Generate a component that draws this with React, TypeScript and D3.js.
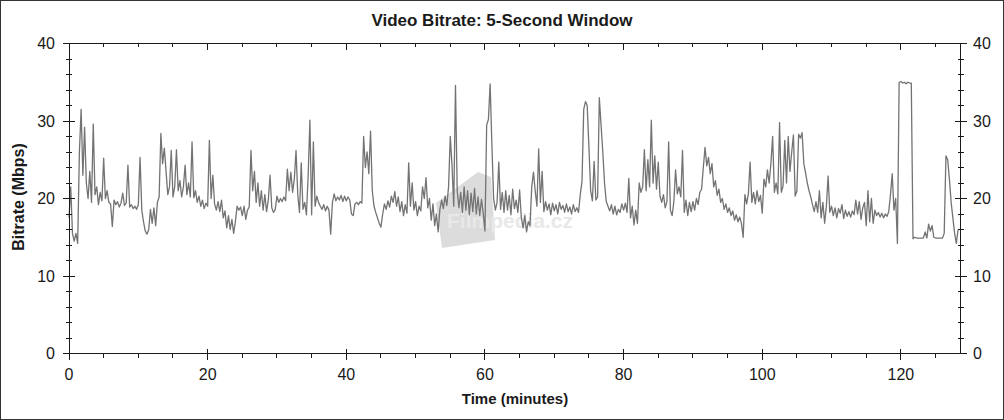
import React from 'react';
import * as d3 from 'd3';

const W = 1004;
const H = 420;

const chartTitle = 'Video Bitrate: 5-Second Window';
const xAxisTitle = 'Time (minutes)';
const yAxisTitle = 'Bitrate (Mbps)';
const watermarkText = 'Filmpedia.cz';

const xTickLabels = [0, 20, 40, 60, 80, 100, 120];
const yTickLabels = [0, 10, 20, 30, 40];

// one sample every 0.25 minute starting at minute 0
const sampleStepMinutes = 0.25;
const bitrateMbps = [
  // 0 - 5
  17.5, 21.5, 15.5, 14.5, 15.5, 14.2, 26, 31.5, 23, 29.2, 22, 20, 23.5, 19.5, 29.6, 20.5, 21.5, 19.2, 20.8, 19.7,
  // 5 - 10
  25.2, 20, 21, 19.5, 19.3, 16.4, 19.8, 19.2, 19.6, 18.9, 19.4, 20.7, 19.1, 19.4, 24.3, 18.9, 19.2, 18.7, 19, 18.6,
  // 10 - 15
  19.2, 25.3, 18.5, 17, 15.8, 15.4, 16, 18.6, 16.8, 18.8, 16.5, 19.5, 20.2, 28.4, 24.5, 26.5, 23.5, 20.5, 21.5, 26.2,
  // 15 - 20
  20.2, 21.5, 26.3, 21, 22.3, 20.2, 21.5, 24.3, 20.5, 22, 20.2, 27.3, 20.1, 21, 19.5, 20.3, 19, 19.8, 18.7, 19.4,
  // 20 - 25
  19, 27.5, 20, 23, 19.3, 18.5, 19.6, 18.3, 19.8, 17.5, 18.4, 16.2, 17.8, 16, 17.3, 15.5, 17, 19, 18.5, 18.9,
  // 25 - 30
  17.8, 19, 17.3, 18.5, 18.9, 26.2, 21, 23.5, 19.5, 22, 19, 21, 18.5, 20.5, 18.3, 19.8, 23, 18.8, 18.2, 18.6,
  // 30 - 35
  20.3, 19.5, 20, 19.6, 20.2, 19.7, 23.8, 21, 23.4, 20.8, 22.5, 26.2, 20.5, 18.2, 24.6, 18.6, 19.5, 17.9, 23, 30.1,
  // 35 - 40
  17.9, 27.3, 19, 20.3, 19.5, 19, 18.6, 19.2, 18.4, 19, 18.5, 15.4, 19.5, 20.6, 19.7, 20.2, 19.8, 20.4, 19.6, 20.3,
  // 40 - 45
  19.7, 20.2, 19.8, 18, 17.8, 19.3, 19.5, 19.2, 19.6, 19.4, 28, 24, 26, 23.2, 28.7, 21, 19, 18.2, 17.5, 16.8,
  // 45 - 50
  16.3, 18, 19.3, 18.6, 19.7, 18.9, 20.3, 19.5, 20.9, 19, 20.2, 18.3, 19.6, 17.8, 19.2, 18.1, 24.6, 19, 22, 18.5,
  // 50 - 55
  19.6, 17.8, 19, 18.4, 21.5, 20, 22.7, 18.8, 20, 17.2, 19.3, 16.5, 18, 15.7, 18.6, 19.8, 18.7, 20.3, 19.1, 21.5,
  // 55 - 60
  28, 24.3, 19, 34.6, 21, 18.8, 20.8, 18.2, 21.5, 18.5, 21, 17.9, 20.7, 18.3, 21.3, 18, 20.2, 17.8, 19.9, 18.1,
  // 60 - 65
  15.8, 29.5, 30.2, 34.8, 27, 20, 18.5, 19.5, 24.7, 18.6, 20.8, 18.2, 21, 18.5, 20.4, 17.9, 21.2, 18.7, 19.8, 18.2,
  // 65 - 70
  21.1, 17.5, 16.2, 17.8, 15.7, 17, 16.5, 21.5, 23.4, 21, 19, 26.4, 19.5, 23.5, 18.3, 19.6, 18.5, 19.3, 17.9, 19.4,
  // 70 - 75
  18.4, 19.2, 18, 19.5, 18.6, 19.1, 18.2, 19.3, 18.3, 18.9, 18, 19.2, 18.3, 18.8, 18.2, 20.5, 22.2, 31.5, 32.5, 32,
  // 75 - 80
  26.6, 21, 19.7, 24.8, 19.8, 20.2, 33, 29.5, 26, 22, 19.6, 19, 18.4, 19.2, 18, 19, 17.9, 18.6, 18.2, 19.3,
  // 80 - 85
  18.5, 19.4, 18.2, 22.6, 17.5, 19, 16.6, 18.5, 16.8, 22, 20.8, 21.5, 26.3, 21, 25, 21.5, 30.1, 22, 25.5, 21.2,
  // 85 - 90
  24.7, 20.3, 19.5, 20.5, 18.8, 19.6, 27.3, 18.5, 17.8, 19.6, 23.7, 20.6, 21.5, 20.2, 26.2, 18.2, 19.8, 17.8, 19.5, 18.3,
  // 90 - 95
  19.6, 18.5, 20, 19.2, 20.8, 21.2, 24, 26.6, 24.2, 25.3, 23.2, 24.5, 21.5, 22.3, 20.4, 21.2, 19.5, 20, 18.6, 19.3,
  // 95 - 100
  18.2, 18.8, 17.8, 18.4, 17.2, 17.9, 17, 17.6, 16.8, 15, 20.5, 19.3, 20.6, 24.7, 19.5, 20.8, 19.3, 21, 19.6, 20.4,
  // 100 - 105
  18.1, 22.5, 21.5, 23.7, 22, 24.5, 28, 20.8, 22, 20.6, 29.8, 20.8, 21.6, 27.5, 22, 28, 23.5, 26, 28.2, 20.3,
  // 105 - 110
  21, 28.3, 27.8, 28.5, 24.5, 23.3, 22, 21, 20.2, 19.2, 18.3, 19.6, 18.2, 21, 17.5, 19.5, 16.8, 19, 22.9, 18.2,
  // 110 - 115
  19, 17.8, 18.8, 17.5, 18.7, 18.1, 19.2, 17.4, 18.5, 17.7, 18.3, 17.6, 18.4, 17.9, 19.8, 18, 19.6, 17.3, 18.8, 19.5,
  // 115 - 120
  16.5, 21, 17, 20, 16.8, 18.5, 17.8, 18.2, 17.6, 18.1, 17.5, 18, 17.7, 18.3, 20.5, 23.2, 18.5, 20, 14.2, 35,
  // 120 - 125
  35.1, 34.9, 35, 34.8, 35, 34.9, 34.9, 14.8, 15, 14.9, 14.9, 14.9, 14.9, 14.9, 15.7, 14.9, 16.7, 15.8, 16.5, 15,
  // 125 - 128.25
  14.9, 14.9, 14.9, 14.9, 14.9, 15.5, 25.5, 25, 22.5, 19.5, 17.5, 15.5, 14.2, 16,
];

const xDomainMax = 128.6;

export default function App() {
  const x = d3.scaleLinear().domain([0, xDomainMax]).range([69, 960.5]);
  const y = d3.scaleLinear().domain([0, 40]).range([353.5, 43.5]);

  const points: [number, number][] = bitrateMbps.map((v, i) => [i * sampleStepMinutes, v]);
  const line = d3
    .line<[number, number]>()
    .x((d) => x(d[0]))
    .y((d) => y(d[1]));

  const xMinor = d3.range(0, xDomainMax, 5);
  const yMinor = d3.range(0, 40.01, 2);
  const left = x(0);
  const right = x(xDomainMax);
  const top = y(40);
  const bottom = y(0);
  const axisColor = '#1a1a1a';
  const textColor = '#1a1a1a';
  const font = "'Liberation Sans', Arial, sans-serif";

  return (
    <svg
      width={W}
      height={H}
      style={{ position: 'absolute', left: 0, top: 0, background: '#fff' }}
      fontFamily={font}
    >
      <rect x={0} y={0} width={W} height={H} fill="#fff" />
      <rect x={0.5} y={0.5} width={W - 1} height={H - 1} fill="none" stroke="#333" strokeWidth={1} />

      {/* watermark */}
      <g>
        <polygon points="436,203 478,172 491,177 495,240 442,248" fill="#dcdcdc" />
        <text x={447} y={228} fontSize={21} fontWeight="bold" fill="#e8e8e8">
          {watermarkText}
        </text>
      </g>

      {/* data line */}
      <path d={line(points) || ''} fill="none" stroke="#737373" strokeWidth={1.3} strokeLinejoin="round" />

      {/* frame */}
      <g stroke={axisColor} strokeWidth={1} shapeRendering="crispEdges">
        <line x1={left} x2={right} y1={top} y2={top} />
        <line x1={left} x2={right} y1={bottom} y2={bottom} />
        <line x1={left} x2={left} y1={top} y2={bottom} />
        <line x1={right} x2={right} y1={top} y2={bottom} />
        {xMinor.map((t) => {
          const major = t % 20 === 0;
          return (
            <g key={'xt' + t}>
              <line x1={x(t)} x2={x(t)} y1={major ? bottom - 5 : bottom} y2={major ? bottom + 6 : bottom + 4} />
              <line x1={x(t)} x2={x(t)} y1={top} y2={major ? top + 6 : top + 3} />
            </g>
          );
        })}
        {yMinor.map((v) => {
          const major = v % 10 === 0;
          const len = major ? 6 : 3;
          return (
            <g key={'yt' + v}>
              <line x1={left - len} x2={left + len} y1={y(v)} y2={y(v)} />
              <line x1={right - len} x2={right + len} y1={y(v)} y2={y(v)} />
            </g>
          );
        })}
      </g>

      {/* tick labels */}
      <g fontSize={16} fill={textColor}>
        {xTickLabels.map((t) => (
          <text key={'xl' + t} x={x(t)} y={380} textAnchor="middle">
            {t}
          </text>
        ))}
        {yTickLabels.map((v) => (
          <text key={'yl' + v} x={55} y={y(v) + 5.8} textAnchor="end">
            {v}
          </text>
        ))}
        {yTickLabels.map((v) => (
          <text key={'yr' + v} x={973} y={y(v) + 5.8} textAnchor="start">
            {v}
          </text>
        ))}
      </g>

      {/* titles */}
      <text x={502} y={26} textAnchor="middle" fontSize={17} fontWeight="bold" fill={textColor}>
        {chartTitle}
      </text>
      <text x={515} y={404} textAnchor="middle" fontSize={15} fontWeight="bold" fill={textColor}>
        {xAxisTitle}
      </text>
      <text
        transform={`translate(24,197) rotate(-90)`}
        textAnchor="middle"
        fontSize={16}
        fontWeight="bold"
        fill={textColor}
      >
        {yAxisTitle}
      </text>
    </svg>
  );
}
